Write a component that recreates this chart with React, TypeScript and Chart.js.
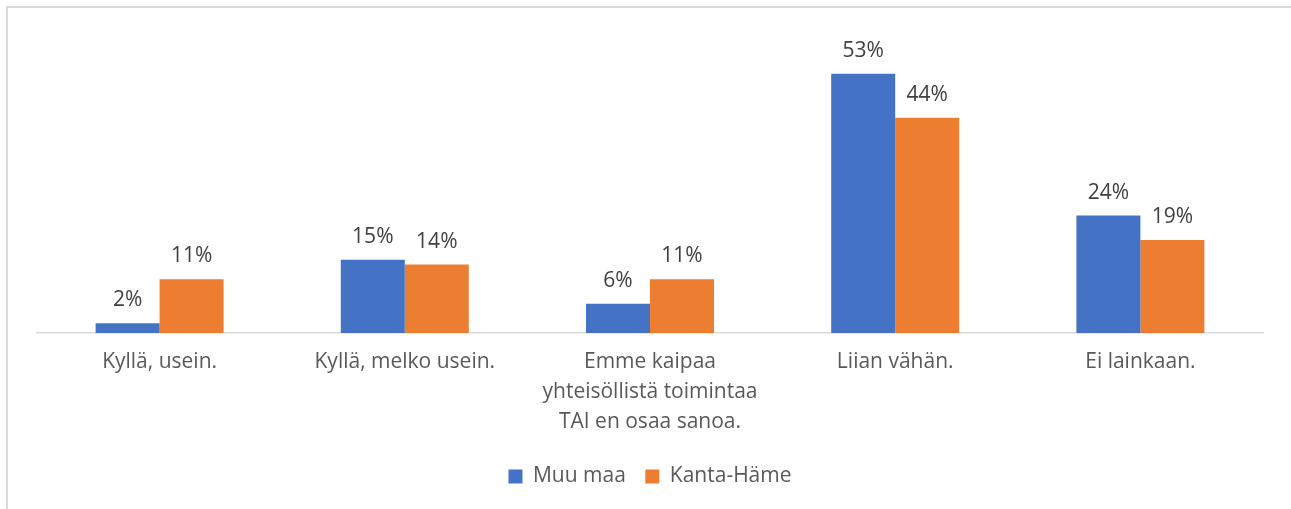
import React, { useEffect, useRef } from "react";
import { Chart, registerables } from "chart.js";

Chart.register(...registerables);

const categories: (string | string[])[] = [
  "Kyllä, usein.",
  "Kyllä, melko usein.",
  ["Emme kaipaa", "yhteisöllistä toimintaa", "TAI en osaa sanoa."],
  "Liian vähän.",
  "Ei lainkaan.",
];
const muuMaa = [2, 15, 6, 53, 24];
const kantaHame = [11, 14, 11, 44, 19];
const seriesNames = ["Muu maa", "Kanta-Häme"];
const colors = ["#4472C4", "#ED7D31"];

const FONT = "'Open Sans', sans-serif";
const FS = 21;

const labelPlugin = {
  id: "barLabels",
  afterDatasetsDraw(chart: any) {
    const ctx = chart.ctx;
    ctx.save();
    ctx.font = `${FS}px ${FONT}`;
    ctx.fillStyle = "#404040";
    ctx.textAlign = "center";
    ctx.textBaseline = "alphabetic";
    chart.data.datasets.forEach((ds: any, i: number) => {
      const meta = chart.getDatasetMeta(i);
      meta.data.forEach((el: any, j: number) => {
        ctx.fillText(`${ds.data[j]}%`, el.x, el.y - 17);
      });
    });
    ctx.restore();
  },
};

export default function App() {
  const ref = useRef<HTMLCanvasElement>(null);
  useEffect(() => {
    if (!ref.current) return;
    const chart = new Chart(ref.current, {
      type: "bar",
      data: {
        labels: categories,
        datasets: [
          { label: seriesNames[0], data: muuMaa, backgroundColor: colors[0] },
          { label: seriesNames[1], data: kantaHame, backgroundColor: colors[1] },
        ],
      },
      options: {
        animation: false,
        responsive: false,
        maintainAspectRatio: false,
        layout: { padding: { left: 37, right: 28, top: 39.5, bottom: 12 } },
        datasets: {
          bar: { categoryPercentage: 0.522, barPercentage: 1 },
        },
        scales: {
          x: {
            grid: { display: false, drawTicks: false },
            border: { display: true, color: "#d9d9d9", width: 1.5 },
            ticks: {
              color: "#595959",
              font: { family: FONT, size: FS, lineHeight: 30 / FS },
              padding: 14,
              maxRotation: 0,
              autoSkip: false,
            },
            afterFit: (s: any) => {
              s.height = 119;
            },
          },
          y: {
            display: false,
            min: 0,
            max: 60,
          },
        },
        plugins: {
          legend: {
            position: "bottom",
            labels: {
              boxWidth: 14,
              boxHeight: 14,
              color: "#595959",
              font: { family: FONT, size: FS },
              padding: 14,
              generateLabels: (chart: any) => {
                const items = Chart.defaults.plugins.legend.labels.generateLabels(chart);
                items.forEach((it: any, i: number) => {
                  if (i < items.length - 1) it.text = it.text + " ";
                });
                return items;
              },
            },
          },
          tooltip: { enabled: false },
        },
      },
      plugins: [labelPlugin],
    });
    return () => chart.destroy();
  }, []);
  return (
    <div style={{ position: "absolute", left: 0, top: 0, width: 1291, height: 509, background: "#fff" }}>
      <div
        style={{
          position: "absolute",
          left: 6,
          top: 6,
          width: 1284,
          height: 510,
          borderTop: "2px solid #d9d9d9",
          borderLeft: "2px solid #d9d9d9",
        }}
      />
      <canvas ref={ref} width={1291} height={509} style={{ position: "absolute", left: 0, top: 0 }} />
    </div>
  );
}
